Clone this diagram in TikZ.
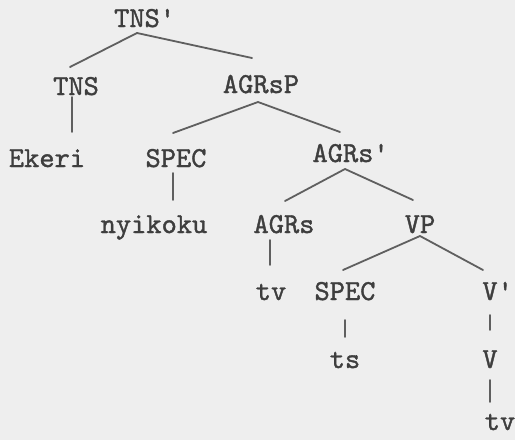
\documentclass[tikz,border=0pt]{standalone}
\usepackage{fontspec}
\usetikzlibrary{calc}
\newfontfamily\treefont{lmmono10-regular.otf}[FakeBold=1.3]
\definecolor{bgc}{RGB}{238,238,238}
\definecolor{txt}{RGB}{62,62,62}
\definecolor{edge}{RGB}{95,95,95}
\begin{document}
\begin{tikzpicture}[x=1pt,y=-1pt,
  lbl/.style={anchor=base,inner sep=0pt,text=txt,font=\fontsize{29}{32}\selectfont\treefont},
  br/.style={draw=edge,line width=1.8pt,line cap=round}]
\fill[bgc] (0,0) rectangle (515,440);
\useasboundingbox (0,0) rectangle (515,440);
\node[lbl] (root)    at (137,27)  {TNS\rlap{'}};
\node[lbl] (tns)     at (76,95)   {TNS};
\node[lbl] (agrsp)   at (261,93)  {AGRsP};
\node[lbl] (ekeri)   at (47,167)  {Ekeri};
\node[lbl] (spec1)   at (176,167) {SPEC};
\node[lbl] (agrsbar) at (343,162) {AGRs\rlap{'}};
\node[lbl] (nyikoku) at (154,233) {nyikoku};
\node[lbl] (agrs)    at (284,233) {AGRs};
\node[lbl] (vp)      at (420,233) {VP};
\node[lbl] (tv1)     at (271,300) {tv};
\node[lbl] (spec2)   at (345,300) {SPEC};
\node[lbl] (vbar)    at (490,300) {V\rlap{'}};
\node[lbl] (ts)      at (345,368) {ts};
\node[lbl] (v)       at (490,368) {V};
\node[lbl] (tv2)     at (500,430) {tv};
% branches
\draw[br] ($(tns.base)+(-6,-28)$) -- ($(root.base)+(0,6)$) -- ($(agrsp.base)+(-9,-35)$);
\draw[br] ($(tns.base)+(-4,2)$) -- ($(ekeri.base)+(25,-35)$);
\draw[br] ($(spec1.base)+(-3,-34)$) -- ($(agrsp.base)+(-3,9)$) -- ($(agrsbar.base)+(-3,-30)$);
\draw[br] ($(spec1.base)+(-3,6)$) -- ($(nyikoku.base)+(19,-33)$);
\draw[br] ($(agrs.base)+(1,-32)$) -- ($(agrsbar.base)+(2,7)$) -- ($(vp.base)+(-7,-33)$);
\draw[br] ($(agrs.base)+(-14,7)$) -- ($(tv1.base)+(-1,-35)$);
\draw[br] ($(spec2.base)+(-2,-30)$) -- ($(vp.base)+(0,3)$) -- ($(vbar.base)+(-7,-30)$);
\draw[br] ($(spec2.base)+(0,20)$) -- ($(ts.base)+(0,-31)$);
\draw[br] ($(vbar.base)+(0,15)$) -- ($(v.base)+(0,-38)$);
\draw[br] ($(v.base)+(0,12)$) -- ($(tv2.base)+(-10,-28)$);
\end{tikzpicture}
\end{document}
